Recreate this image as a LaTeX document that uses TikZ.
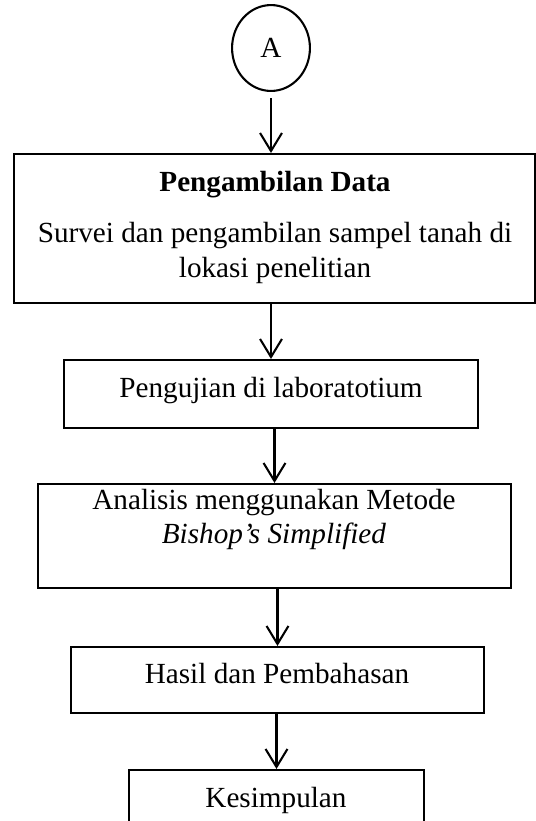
\documentclass[tikz,border=0pt]{standalone}
\usepackage{fontspec}
\setmainfont{Liberation Serif}
\usetikzlibrary{arrows.meta,fit,shapes.geometric}

\begin{document}
\begin{tikzpicture}[
    x=0.411pt, y=-0.411pt,
    box/.style={draw, line width=0.85pt, inner sep=0pt},
    txt/.style={inner sep=0pt, anchor=base, font=\fontsize{12}{14}\selectfont},
    flow/.style={line width=0.85pt, -{Straight Barb[length=7.4pt, width=9pt]}},
  ]
  \useasboundingbox (0,0) rectangle (536,821);
  \clip (0,0) rectangle (536,821);

  % start connector
  \node[draw, ellipse, line width=0.85pt, minimum width=32pt, minimum height=35.3pt,
        inner sep=0pt, font=\fontsize{12}{14}\selectfont] (A) at (271,48) {A};

  % boxes
  \coordinate (b1tl) at (14,154);   \coordinate (b1br) at (535,303);
  \coordinate (b2tl) at (64,360);   \coordinate (b2br) at (478,428);
  \coordinate (b3tl) at (38,484);   \coordinate (b3br) at (511,588);
  \coordinate (b4tl) at (71,647);   \coordinate (b4br) at (484,713);
  \coordinate (b5tl) at (129,770);  \coordinate (b5br) at (424,838);

  \node[box, fit=(b1tl)(b1br)] (b1) {};
  \node[box, fit=(b2tl)(b2br)] (b2) {};
  \node[box, fit=(b3tl)(b3br)] (b3) {};
  \node[box, fit=(b4tl)(b4br)] (b4) {};
  \node[box, fit=(b5tl)(b5br)] (b5) {};

  % box texts
  \node[txt] (t1a) at (275,191) {\textbf{Pengambilan Data}};
  \node[txt] (t1b) at (275,242) {Survei dan pengambilan sampel tanah di};
  \node[txt] (t1c) at (275,277) {lokasi penelitian};
  \node[txt] (t2)  at (271,397) {Pengujian di laboratotium};
  \node[txt] (t3a) at (274,509) {Analisis menggunakan Metode};
  \node[txt] (t3b) at (274,543) {\textit{Bishop’s Simplified}};
  \node[txt] (t4)  at (277,683) {Hasil dan Pembahasan};
  \node[txt] (t5)  at (276,807) {Kesimpulan};

  % connectors
  \draw[flow] ([yshift=-2.5pt]A.south) -- (A.south |- b1.north);
  \draw[flow] (b1.south -| b2.north) -- (b2.north);
  \draw[flow] (b2.south -| b3.north) -- (b3.north);
  \draw[flow] (b3.south -| b4.north) -- (b4.north);
  \draw[flow] (b4.south -| b5.north) -- (b5.north);
\end{tikzpicture}
\end{document}
